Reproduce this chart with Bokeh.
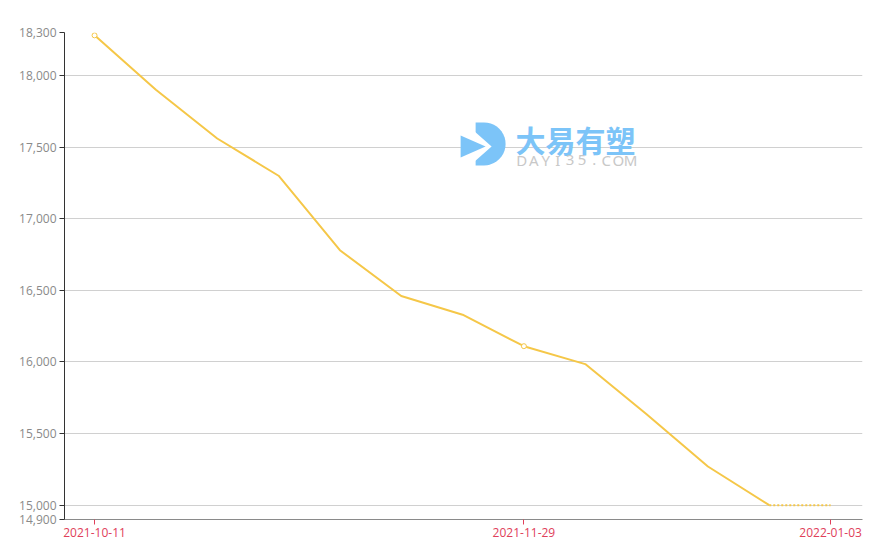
import math

from bokeh.plotting import figure
from bokeh.models import Range1d, FixedTicker, NumeralTickFormatter
from bokeh.core.properties import value
from bokeh.embed import file_html
from bokeh.resources import INLINE

# Weekly price series
dates = ["2021-10-11", "2021-10-18", "2021-10-25", "2021-11-01", "2021-11-08",
         "2021-11-15", "2021-11-22", "2021-11-29", "2021-12-06", "2021-12-13",
         "2021-12-20", "2021-12-27", "2022-01-03"]
prices = [18280, 17900, 17560, 17300, 16780, 16460, 16330, 16110, 15985,
          15635, 15270, 15000, 15000]
y_ticks = [14900, 15000, 15500, 16000, 16500, 17000, 17500, 18000, 18300]
x_tick_idx = [0, 7, 12]

idx = list(range(len(dates)))
LINE = "#f5c748"
LOGO = "#7cc4f8"

p = figure(width=887, height=558, output_backend="svg", toolbar_location=None,
           x_range=Range1d(-0.49, 12.52), y_range=Range1d(14900, 18300),
           min_border_left=64, min_border_right=25, min_border_top=32,
           min_border_bottom=39)
p.outline_line_color = None
p.background_fill_color = "white"
p.border_fill_color = "white"


# Watermark placement helpers (canvas pixels -> data units)
def px(x):
    return (x - 94) / 61.33


def py(y):
    return 18300 - (y - 32) / 0.14333


# "D" shaped logo with a bow-tie cut
dx = [px(475)]
dy = [py(122)]
for k in range(0, 21):
    a = math.pi / 2 - math.pi * k / 20
    dx.append(px(483.5 + 21.5 * math.cos(a)))
    dy.append(py(143.5 - 21.5 * math.sin(a)))
dx.append(px(475))
dy.append(py(165))
p.patch(dx, dy, color=LOGO, line_width=0)
p.patch([px(474), px(491), px(474)], [py(131), py(146), py(161)],
        color="white", line_width=0)
p.patch([px(460), px(485), px(460)], [py(135), py(146), py(157)],
        color=LOGO, line_width=0)
p.text(x=[px(575)], y=[py(139)], text=["大易有塑"], text_color=LOGO,
       text_font=value("Noto Sans CJK SC"), text_font_size="30px",
       text_font_style="bold", text_baseline="middle", text_align="center")
wm = "DAYI35.COM"
p.text(x=[px(521 + i * 12.1) for i in range(len(wm))], y=[py(159.5)] * len(wm),
       text=list(wm), text_color="#c8c8c8", text_font=value("Noto Sans"),
       text_font_size="15px", text_baseline="middle", text_align="center")

# Price line: solid through the last known week, dotted for the final step
p.line(idx[:12], prices[:12], line_color=LINE, line_width=2)
p.line(idx[11:], prices[11:], line_color=LINE, line_width=2, line_dash="2 2")
p.scatter([idx[i] for i in (0, 7)], [prices[i] for i in (0, 7)], size=5,
          marker="circle", fill_color="white", line_color=LINE, line_width=1)

# Axes
p.yaxis.ticker = FixedTicker(ticks=y_ticks)
p.yaxis.formatter = NumeralTickFormatter(format="0,0")
p.yaxis.axis_line_color = "#333333"
p.yaxis.major_tick_line_color = "#333333"
p.yaxis.major_tick_out = 5
p.yaxis.major_tick_in = 0
p.yaxis.minor_tick_line_color = None
p.yaxis.major_label_text_color = "#8a8a8a"
p.yaxis.major_label_text_font = "Open Sans"
p.yaxis.major_label_text_font_size = "12px"
p.yaxis.major_label_standoff = 3

p.xaxis.ticker = FixedTicker(ticks=x_tick_idx)
p.xaxis.major_label_overrides = {i: dates[i] for i in x_tick_idx}
p.xaxis.axis_line_color = "#8a8a8a"
p.xaxis.major_tick_line_color = "#e0405a"
p.xaxis.major_tick_out = 5
p.xaxis.major_tick_in = 0
p.xaxis.minor_tick_line_color = None
p.xaxis.major_label_text_color = "#e0405a"
p.xaxis.major_label_text_font = "Open Sans"
p.xaxis.major_label_text_font_size = "12px"
p.xaxis.major_label_standoff = 3

p.xgrid.grid_line_color = None
p.ygrid.grid_line_color = "#d0d0d0"
p.ygrid.ticker = FixedTicker(ticks=y_ticks[1:])

open("out.html", "w").write(file_html(p, INLINE))
